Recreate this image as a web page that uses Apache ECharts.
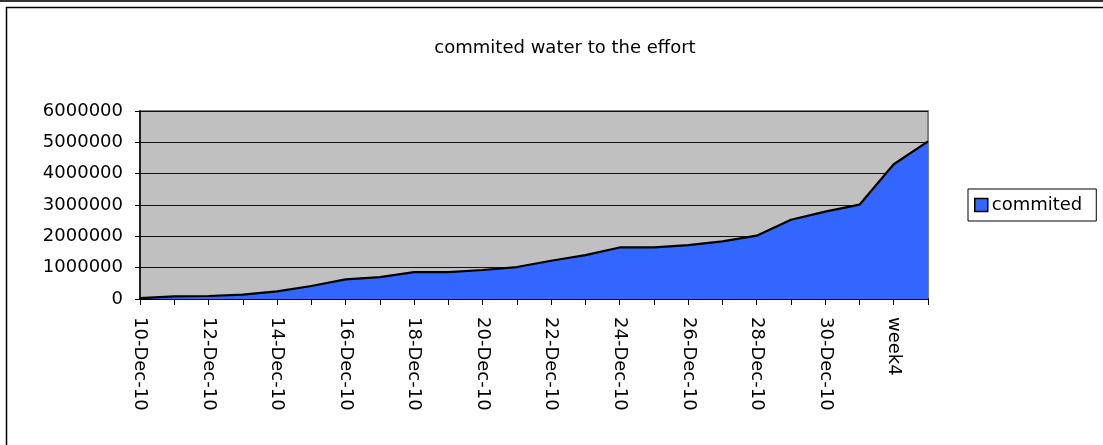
<!DOCTYPE html>
<html>
<head>
<meta charset="utf-8">
<script src="https://cdn.jsdelivr.net/npm/echarts@6/dist/echarts.min.js"></script>
<style>
html,body{margin:0;padding:0;background:#fff;}
#chart{width:1103px;height:445px;}
</style>
</head>
<body>
<div id="chart"></div>
<script>
const titleText = 'commited water to the effort';
const seriesName = 'commited';
const categories = ['10-Dec-10','11-Dec-10','12-Dec-10','13-Dec-10','14-Dec-10','15-Dec-10','16-Dec-10','17-Dec-10','18-Dec-10','19-Dec-10','20-Dec-10','21-Dec-10','22-Dec-10','23-Dec-10','24-Dec-10','25-Dec-10','26-Dec-10','27-Dec-10','28-Dec-10','29-Dec-10','30-Dec-10','31-Dec-10','week4','week5'];
const committed = [30000, 85000, 95000, 140000, 245000, 415000, 625000, 700000, 860000, 860000, 925000, 1020000, 1220000, 1400000, 1645000, 1645000, 1720000, 1840000, 2020000, 2530000, 2790000, 3010000, 4300000, 5030000];
const yMin = 0, yMax = 6000000, yStep = 1000000;

const FONT = 'DejaVu Sans';
const chart = echarts.init(document.getElementById('chart'), null, {renderer:'canvas'});
chart.setOption({
  animation: false,
  backgroundColor: '#fff',
  graphic: [
    {type:'rect', shape:{x:0, y:0, width:1103, height:2}, style:{fill:'#333'}, silent:true},
    {type:'rect', shape:{x:6.5, y:7.5, width:1110, height:450}, style:{fill:null, stroke:'#000', lineWidth:1.5}, silent:true}
  ],
  title: {
    text: titleText,
    left: 560, top: 34, textAlign: 'center',
    textStyle: {fontFamily: FONT, fontSize: 18, fontWeight: 'normal', color: '#000'}
  },
  legend: {
    show: true,
    left: 968, top: 189,
    padding: [7, 14, 7, 6],
    borderColor: '#000', borderWidth: 1,
    backgroundColor: '#fff',
    icon: 'rect', itemWidth: 13, itemHeight: 13,
    itemStyle: {color:'#3366FF', borderColor:'#000', borderWidth:1.5},
    textStyle: {fontFamily: FONT, fontSize: 18, color:'#000', padding:[0,0,0,-1]},
    data: [seriesName]
  },
  grid: {
    left: 140, right: 175, top: 111, bottom: 146,
    show: true, backgroundColor: '#C0C0C0', borderColor: '#808080', borderWidth: 2,
    containLabel: false
  },
  xAxis: {
    type: 'category',
    data: categories,
    boundaryGap: false,
    axisLine: {lineStyle:{color:'#000', width:2}},
    axisTick: {show:true, interval:0, length:6, lineStyle:{color:'#000', width:1}},
    axisLabel: {interval:1, rotate:-90, margin:18, fontFamily:FONT, fontSize:18, color:'#000'},
    splitLine: {show:false}
  },
  yAxis: {
    type: 'value',
    min: yMin, max: yMax, interval: yStep,
    axisLine: {show:true, lineStyle:{color:'#000', width:1.5}},
    axisTick: {show:true, length:5, lineStyle:{color:'#000', width:1}},
    axisLabel: {margin:17, fontFamily:FONT, fontSize:18, color:'#000', formatter: v => String(v)},
    splitLine: {show:true, lineStyle:{color:'#111', width:1}}
  },
  series: [{
    name: seriesName,
    type: 'line',
    data: committed,
    showSymbol: false,
    symbol: 'none',
    itemStyle: {color:'#3366FF'},
    lineStyle: {color:'#000', width:2.2},
    areaStyle: {color:'#3366FF', opacity:1}
  }]
});
</script>
</body>
</html>
